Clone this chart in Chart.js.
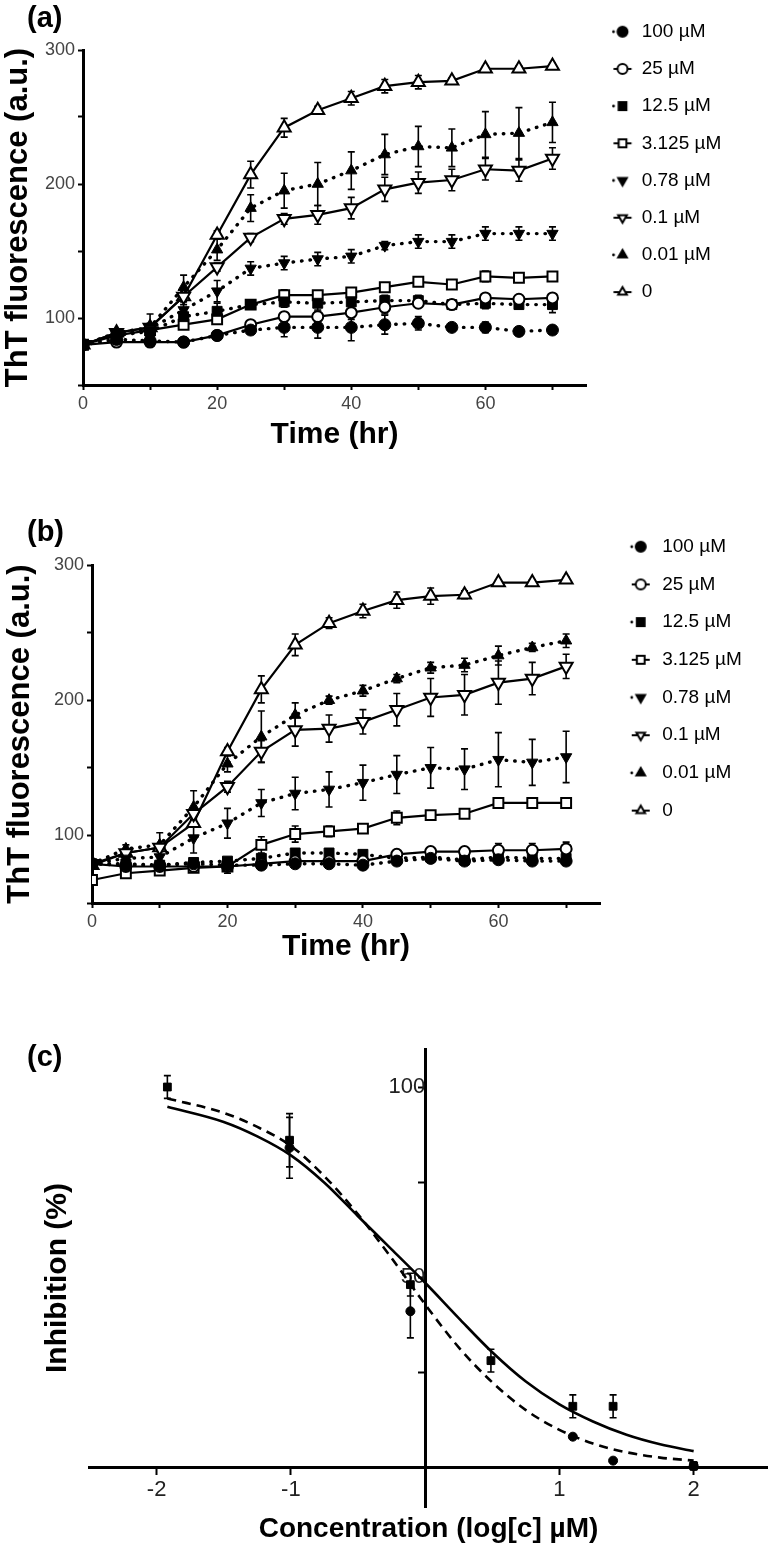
<!DOCTYPE html>
<html>
<head>
<meta charset="utf-8">
<script src="https://cdn.jsdelivr.net/npm/chart.js@4.4.1/dist/chart.umd.min.js"></script>
<style>
  body { margin: 0; background: #fff; width: 774px; height: 1553px; position: relative; overflow: hidden; }
  canvas { position: absolute; left: 0; }
</style>
</head>
<body>
<canvas id="chartA" width="774" height="453" style="top:0"></canvas>
<canvas id="chartB" width="774" height="475" style="top:490px"></canvas>
<canvas id="chartC" width="774" height="556" style="top:990px"></canvas>
<script>
// time points (hr)
const hours = [0, 5, 10, 15, 20, 25, 30, 35, 40, 45, 50, 55, 60, 65, 70];
const seriesNames = ['100 µM', '25 µM', '12.5 µM', '3.125 µM', '0.78 µM', '0.1 µM', '0.01 µM', '0'];

// panel (a) values
const a100  = [80, 84, 83, 82, 87, 91, 93, 93, 93, 95, 96, 93, 93, 90, 91];
const a25   = [80, 82, 82, 82, 87, 95, 101, 101, 104, 108, 111, 110, 115, 114, 115];
const a12   = [80, 87, 90, 101, 105, 110, 112, 111, 112, 113, 113, 110, 111, 110, 110];
const a3    = [80, 87, 91, 95, 99, 110, 117, 117, 119, 123, 127, 125, 131, 130, 131];
const a078  = [80, 88, 92, 106, 120, 137, 141, 144, 146, 154, 157, 157, 163, 163, 163];
const a01   = [80, 89, 93, 116, 138, 160, 174, 177, 182, 196, 201, 203, 211, 210, 219];
const a001  = [80, 89, 93, 123, 151, 182, 195, 200, 210, 222, 228, 227, 237, 238, 246];
const a0    = [80, 89, 93, 116, 162, 207, 242, 255, 264, 273, 276, 277, 286, 286, 288];
// panel (a) error bars (+/-)
const a100Err = [0, 0, 0, 0, 0, 2, 7, 8, 10, 7, 5, 0, 4, 3, 0];
const a25Err  = [0, 0, 0, 0, 0, 3, 3, 4, 5, 5, 3, 0, 3, 2, 2];
const a12Err  = [0, 0, 0, 4, 6, 3, 4, 5, 5, 4, 4, 2, 4, 3, 6];
const a3Err   = [0, 0, 0, 3, 0, 3, 4, 3, 3, 3, 3, 3, 4, 3, 2];
const a078Err = [0, 2, 3, 4, 8, 5, 5, 5, 5, 3, 5, 5, 5, 5, 5];
const a01Err  = [0, 2, 3, 4, 3, 3, 4, 7, 8, 9, 8, 8, 8, 8, 8];
const a001Err = [0, 2, 10, 9, 8, 10, 13, 16, 14, 15, 15, 14, 17, 19, 15];
const a0Err   = [0, 2, 2, 3, 3, 10, 7, 3, 5, 5, 5, 2, 2, 2, 2];

// panel (b) values
const b100  = [79, 78, 78, 79, 78, 78, 79, 79, 78, 81, 83, 81, 82, 81, 81];
const b25   = [79, 77, 77, 77, 77, 79, 81, 81, 81, 86, 88, 88, 89, 89, 90];
const b12   = [79, 79, 78, 80, 81, 83, 87, 87, 86, 83, 84, 82, 84, 83, 83];
const b3    = [67, 72, 74, 76, 77, 93, 101, 103, 105, 113, 115, 116, 124, 124, 124];
const b078  = [79, 83, 84, 98, 109, 124, 131, 134, 139, 145, 150, 149, 156, 154, 158];
const b01   = [79, 87, 91, 116, 136, 162, 178, 179, 184, 193, 202, 204, 213, 216, 225];
const b001  = [79, 90, 93, 121, 153, 173, 189, 200, 207, 216, 224, 226, 233, 239, 244];
const b0    = [78, 87, 91, 109, 162, 208, 241, 257, 266, 274, 277, 278, 287, 287, 289];
// panel (b) error bars (+/-)
const b100Err = [0, 0, 0, 0, 0, 0, 0, 0, 0, 2, 2, 0, 2, 2, 2];
const b25Err  = [0, 0, 0, 0, 0, 0, 0, 0, 0, 3, 3, 3, 5, 5, 5];
const b12Err  = [0, 0, 0, 2, 2, 2, 2, 2, 2, 2, 2, 2, 2, 2, 2];
const b3Err   = [0, 0, 0, 2, 5, 6, 6, 4, 2, 5, 3, 3, 2, 2, 0];
const b078Err = [0, 0, 0, 11, 11, 10, 12, 13, 13, 14, 15, 15, 20, 17, 19];
const b01Err  = [0, 2, 3, 4, 4, 8, 12, 10, 9, 12, 14, 15, 16, 12, 9];
const b001Err = [0, 3, 9, 12, 6, 19, 9, 3, 4, 3, 4, 5, 7, 3, 5];
const b0Err   = [0, 2, 2, 3, 3, 10, 8, 4, 5, 6, 6, 3, 2, 2, 2];

// panel (c) measured points, log[c] uM
const sqLog  = [-1.92, -1.01, -0.11, 0.49, 1.1, 1.4, 2];
const sqInh  = [100, 86, 48, 28, 16, 16, 0.3];
const sqErr  = [3, 7, 3, 3, 3, 3, 1];
const cirLog = [-1.01, -0.11, 1.1, 1.4, 2];
const cirInh = [84, 41, 8, 1.7, 0.3];
const cirErr = [8, 7, 0, 0, 1];
// fitted curves
const fitLog    = [-1.92, -1.5, -1.25, -1, -0.75, -0.5, -0.25, 0, 0.25, 0.5, 0.75, 1, 1.25, 1.5, 1.75, 2];
const fitSolid  = [94.8, 90.8, 87, 82, 74.8, 66, 57.3, 48.5, 39.2, 30.2, 22.5, 16.5, 12, 8.5, 6, 4.2];
const fitDashed = [97, 93.2, 89.5, 84.5, 76.5, 66.5, 55, 42.8, 31.5, 22.3, 15, 9.8, 6.2, 3.9, 2.5, 1.7];

Chart.defaults.font.family = '"Liberation Sans", Arial, sans-serif';

// marker look for each series (same order as seriesNames)
const markers = [
  { style: 'circle',   rot: 0,   fill: true,  dotted: true,  r: 6 },
  { style: 'circle',   rot: 0,   fill: false, dotted: false, r: 5.5 },
  { style: 'rect',     rot: 0,   fill: true,  dotted: true,  r: 7 },
  { style: 'rect',     rot: 0,   fill: false, dotted: false, r: 7 },
  { style: 'triangle', rot: 180, fill: true,  dotted: true,  r: 6.5 },
  { style: 'triangle', rot: 180, fill: false, dotted: false, r: 7.5 },
  { style: 'triangle', rot: 0,   fill: true,  dotted: true,  r: 6.5 },
  { style: 'triangle', rot: 0,   fill: false, dotted: false, r: 7.5 },
];

const errorBars = {
  id: 'errorBars',
  beforeDatasetsDraw(chart) {
    const ctx = chart.ctx;
    const xs = chart.scales.x, ys = chart.scales.y;
    ctx.save();
    ctx.strokeStyle = '#000';
    ctx.lineWidth = 1.6;
    chart.data.datasets.forEach(ds => {
      if (!ds.errors) return;
      ds.data.forEach((p, j) => {
        const e = ds.errors[j];
        if (!e) return;
        const px = xs.getPixelForValue(p.x);
        const top = ys.getPixelForValue(p.y + e);
        const bot = ys.getPixelForValue(p.y - e);
        ctx.beginPath();
        ctx.moveTo(px, top); ctx.lineTo(px, bot);
        ctx.moveTo(px - 3.5, top); ctx.lineTo(px + 3.5, top);
        ctx.moveTo(px - 3.5, bot); ctx.lineTo(px + 3.5, bot);
        ctx.stroke();
      });
    });
    ctx.restore();
  }
};

const panelLabel = {
  id: 'panelLabel',
  afterDraw(chart, args, opts) {
    const ctx = chart.ctx;
    ctx.save();
    ctx.font = 'bold 29px "Liberation Sans", Arial, sans-serif';
    ctx.fillStyle = '#000';
    ctx.textBaseline = 'middle';
    ctx.fillText(opts.text, opts.x, opts.y);
    ctx.restore();
  }
};

function legendIcon(m, shift) {
  const c = document.createElement('canvas');
  c.width = 44; c.height = 20;
  const g = c.getContext('2d');
  const cx = 22 + shift, cy = 10;
  g.strokeStyle = '#000'; g.fillStyle = '#000'; g.lineWidth = 2;
  g.beginPath();
  if (m.dotted) { g.arc(cx - 9, cy, 1.4, 0, Math.PI * 2); g.fill(); }
  else { g.moveTo(cx - 9, cy); g.lineTo(cx + 9, cy); g.stroke(); }
  g.fillStyle = m.fill ? '#000' : '#fff';
  Chart.helpers.drawPoint(g, { pointStyle: m.style, rotation: m.rot, radius: m.style === 'rect' ? 5.5 : 5, borderWidth: 1.8 }, cx, cy);
  return c;
}

function buildSets(values, errors) {
  return seriesNames.map((name, i) => {
    const m = markers[i];
    return {
      label: name,
      data: hours.map((h, j) => ({ x: h, y: values[i][j] })),
      errors: errors[i],
      borderColor: '#000',
      borderWidth: m.dotted ? 3.4 : 2.2,
      borderDash: m.dotted ? [0.5, 8] : [],
      borderCapStyle: m.dotted ? 'round' : 'butt',
      tension: 0,
      pointStyle: m.style,
      pointRotation: m.rot,
      pointRadius: m.r,
      pointBorderWidth: m.fill ? 1 : 2,
      pointBackgroundColor: m.fill ? '#000' : '#fff',
      pointBorderColor: '#000',
    };
  });
}

function timeChart(id, values, errors, o) {
  const icons = markers.map(m => legendIcon(m, o.iconShift));
  return new Chart(document.getElementById(id), {
    type: 'line',
    data: { datasets: buildSets(values, errors) },
    options: {
      responsive: false,
      animation: false,
      layout: { padding: { top: o.padTop, right: o.padRight, left: 0, bottom: 0 } },
      plugins: {
        legend: {
          position: 'right',
          align: 'start',
          labels: {
            usePointStyle: true,
            pointStyleWidth: o.boxW,
            padding: o.legPad,
            color: '#333',
            font: { size: 19 },
            generateLabels: chart => chart.data.datasets.map((ds, i) => ({
              text: ds.label, pointStyle: icons[i], datasetIndex: i, hidden: false,
              lineWidth: 0, fillStyle: '#000', strokeStyle: '#000',
            })),
          },
        },
        tooltip: { enabled: false },
        panelLabel: { text: o.label, x: 27, y: o.labelY },
      },
      scales: {
        x: {
          type: 'linear', min: 0, max: 75,
          border: { color: '#000', width: 3 },
          grid: { drawOnChartArea: false, tickLength: 5, tickWidth: 2, tickColor: '#000' },
          ticks: {
            stepSize: 10, includeBounds: false, autoSkip: false, maxRotation: 0,
            padding: 3, color: '#444', font: { size: 18 },
            callback: v => (v % 20 === 0 ? String(v) : ''),
          },
          title: { display: true, text: 'Time (hr)', color: '#000', font: { size: 30, weight: 'bold' }, padding: 0 },
          afterFit: s => { s.height = o.xHeight; },
        },
        y: {
          min: 50, max: 300,
          border: { color: '#000', width: 3 },
          grid: { drawOnChartArea: false, tickLength: 5, tickWidth: 2, tickColor: '#000' },
          ticks: {
            stepSize: 50, includeBounds: false, padding: 3, color: '#444', font: { size: 18 },
            callback: v => (v % 100 === 0 ? String(v) : ''),
          },
          title: { display: true, text: 'ThT fluorescence (a.u.)', color: '#000', font: { size: 31, weight: 'bold' }, padding: { top: o.titlePad, bottom: 0 } },
          afterFit: s => { s.width = o.yWidth; s.paddingTop = o.plotTop; },
        },
      },
    },
    plugins: [errorBars, panelLabel],
  });
}

timeChart('chartA',
  [a100, a25, a12, a3, a078, a01, a001, a0],
  [a100Err, a25Err, a12Err, a3Err, a078Err, a01Err, a001Err, a0Err],
  { padTop: 4, padRight: 42.7, boxW: 28, legPad: 18.2, iconShift: 4.3, label: '(a)', labelY: 19,
    xHeight: 68, yWidth: 83, plotTop: 50, titlePad: 0 });

timeChart('chartB',
  [b100, b25, b12, b3, b078, b01, b001, b0],
  [b100Err, b25Err, b12Err, b3Err, b078Err, b01Err, b001Err, b0Err],
  { padTop: 28.5, padRight: 22.2, boxW: 34, legPad: 18.7, iconShift: 5, label: '(b)', labelY: 43,
    xHeight: 62, yWidth: 92, plotTop: 75, titlePad: 1.5 });

// panel (c): dose-response
new Chart(document.getElementById('chartC'), {
  type: 'line',
  data: {
    datasets: [
      {
        label: 'fit (solid)',
        data: fitLog.map((l, i) => ({ x: l, y: fitSolid[i] })),
        borderColor: '#000', borderWidth: 2.6, pointRadius: 0, cubicInterpolationMode: 'monotone',
      },
      {
        label: 'fit (dashed)',
        data: fitLog.map((l, i) => ({ x: l, y: fitDashed[i] })),
        borderColor: '#000', borderWidth: 2.6, borderDash: [9, 6], pointRadius: 0, cubicInterpolationMode: 'monotone',
      },
      {
        label: 'squares',
        data: sqLog.map((l, i) => ({ x: l, y: sqInh[i] })),
        errors: sqErr, showLine: false,
        pointStyle: 'rect', pointRadius: 5.5, pointBackgroundColor: '#000', pointBorderColor: '#000', pointBorderWidth: 1,
      },
      {
        label: 'circles',
        data: cirLog.map((l, i) => ({ x: l, y: cirInh[i] })),
        errors: cirErr, showLine: false,
        pointStyle: 'circle', pointRadius: 4.5, pointBackgroundColor: '#000', pointBorderColor: '#000', pointBorderWidth: 1,
      },
    ],
  },
  options: {
    responsive: false,
    animation: false,
    layout: { padding: { top: 59, right: 0, left: 0, bottom: 0 } },
    plugins: {
      legend: { display: false },
      tooltip: { enabled: false },
      panelLabel: { text: '(c)', x: 27, y: 68 },
    },
    scales: {
      x: {
        type: 'linear', min: -2.5, max: 2.55,
        border: { display: false }, grid: { display: false }, ticks: { display: false },
        title: { display: true, text: 'Concentration (log[c] µM)', color: '#000', font: { size: 28, weight: 'bold' }, padding: 0 },
        afterFit: s => { s.height = 39; },
      },
      y: {
        min: -10.5, max: 110,
        border: { display: false }, grid: { display: false }, ticks: { display: false },
        title: { display: true, text: 'Inhibition (%)', color: '#000', font: { size: 30, weight: 'bold' }, padding: { top: 40, bottom: 0 } },
        afterFit: s => { s.width = 89.5; },
      },
      xc: {
        type: 'linear', axis: 'x', position: { y: 0 }, min: -2.5, max: 2.55,
        border: { color: '#000', width: 3 },
        grid: { drawOnChartArea: false, tickLength: 6, tickWidth: 2, tickColor: '#000' },
        ticks: {
          stepSize: 1, includeBounds: false, autoSkip: false, maxRotation: 0, padding: 4, color: '#222', font: { size: 22 },
          callback: v => (v === 0 ? '' : String(v)),
        },
      },
      yc: {
        type: 'linear', axis: 'y', position: { x: 0 }, min: -10.5, max: 110,
        border: { color: '#000', width: 3 },
        grid: { drawOnChartArea: false, tickLength: 6, tickWidth: 2, tickColor: '#000' },
        ticks: {
          stepSize: 25, includeBounds: false, padding: 4, color: '#222', font: { size: 22 },
          callback: v => (v === 50 || v === 100 ? String(v) : ''),
        },
      },
    },
  },
  plugins: [errorBars, panelLabel],
});
</script>
</body>
</html>
